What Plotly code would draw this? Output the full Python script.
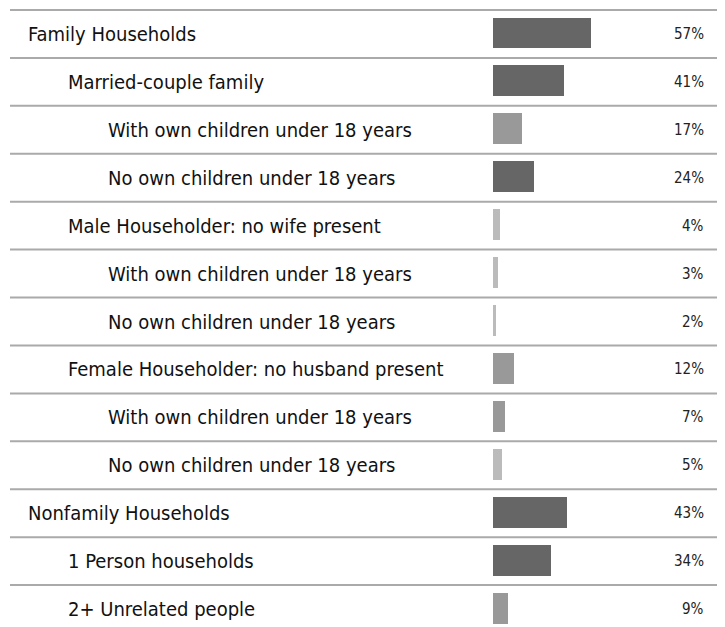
import plotly.graph_objects as go

categories = [
    "Family Households",
    "Married-couple family",
    "With own children under 18 years",
    "No own children under 18 years",
    "Male Householder: no wife present",
    "With own children under 18 years",
    "No own children under 18 years",
    "Female Householder: no husband present",
    "With own children under 18 years",
    "No own children under 18 years",
    "Nonfamily Households",
    "1 Person households",
    "2+ Unrelated people",
]
levels = [0, 1, 2, 2, 1, 2, 2, 1, 2, 2, 0, 1, 1]
values = [57, 41, 17, 24, 4, 3, 2, 12, 7, 5, 43, 34, 9]
value_labels = [f"{v}%" for v in values]


def bar_color(v):
    if v >= 20:
        return "#666666"
    if v >= 7:
        return "#999999"
    return "#bbbbbb"


W, H = 725, 627
ML, MR, MT = 2, 11, 1
plot_w = W - ML - MR
ROW = 48
plot_h = H - MT
n_rows_visible = plot_h / ROW
PX_PER_PCT = 1.72
bar_start_px = 485 - ML

x_min = -bar_start_px / PX_PER_PCT
x_max = (plot_w - bar_start_px) / PX_PER_PCT

ys = list(range(len(categories)))

fig = go.Figure()
fig.add_trace(go.Bar(
    x=values,
    y=[y - 0.02 for y in ys],
    base=0,
    orientation="h",
    width=0.645,
    marker=dict(color=[bar_color(v) for v in values], line=dict(width=0)),
    hoverinfo="skip",
))

font_family = "DejaVu Sans Condensed, Liberation Sans Narrow, sans-serif"

annotations = []
for i, (cat, lvl, lab) in enumerate(zip(categories, levels, value_labels)):
    annotations.append(dict(
        x=(18 + 40 * lvl - ML) / plot_w, xref="paper",
        y=i, yref="y",
        text=cat, showarrow=False, xanchor="left", yanchor="middle",
        font=dict(family=font_family, size=20, color="#111111"),
    ))
    annotations.append(dict(
        x=(698 - ML) / plot_w, xref="paper",
        y=i, yref="y",
        text=lab, showarrow=False, xanchor="right", yanchor="middle",
        font=dict(family=font_family, size=15, color="#222222"),
    ))

shapes = [
    dict(type="line", xref="paper", x0=0, x1=1, yref="y",
         y0=i - 0.5, y1=i - 0.5, line=dict(color="#aaaaaa", width=2), layer="below")
    for i in range(len(categories) + 1)
]

fig.update_layout(
    width=W, height=H,
    margin=dict(l=ML, r=MR, t=MT, b=0, pad=0),
    paper_bgcolor="white", plot_bgcolor="white",
    showlegend=False,
    bargap=0,
    xaxis=dict(range=[x_min, x_max], visible=False, fixedrange=True),
    yaxis=dict(
        range=[-0.5 + n_rows_visible, -0.5 - 1.0 / ROW],
        visible=False, showgrid=False, zeroline=False, fixedrange=True,
    ),
    annotations=annotations,
    shapes=shapes,
)

fig.write_html("out.html")
